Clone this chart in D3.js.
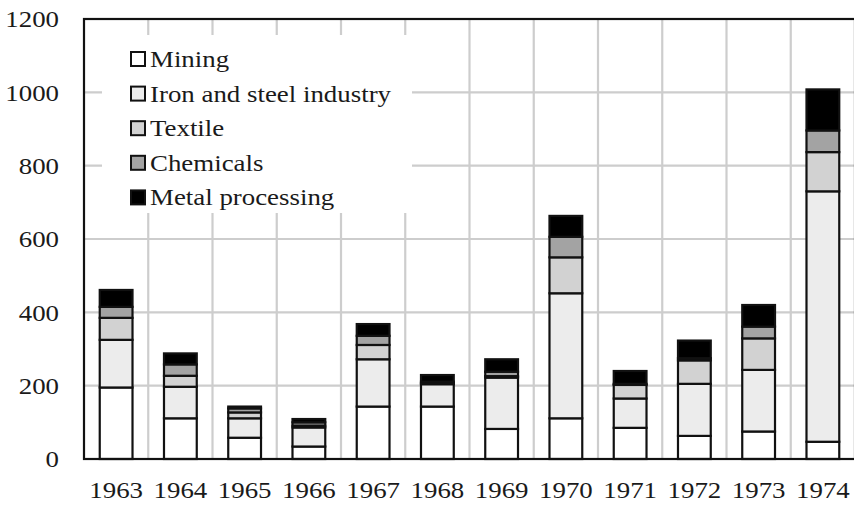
<!DOCTYPE html>
<html>
<head>
<meta charset="utf-8">
<script src="https://cdn.jsdelivr.net/npm/d3@7"></script>
<style>
  body { margin: 0; background: #fff; }
</style>
</head>
<body>
<svg id="chart" width="854" height="505"></svg>
<script>
// Anni e serie
const years = ["1963", "1964", "1965", "1966", "1967", "1968", "1969", "1970", "1971", "1972", "1973", "1974"];
const series = ["Mining", "Iron and steel industry", "Textile", "Chemicals", "Metal processing"];
const mining     = [195, 111, 58, 34, 143, 143, 82, 111, 85, 63, 75, 47];
const ironSteel  = [130, 86, 53, 52, 129, 61, 140, 341, 80, 142, 168, 683];
const textile    = [60, 30, 16, 5, 39, 3, 4, 98, 37, 64, 86, 107];
const chemicals  = [30, 31, 11, 9, 25, 4, 12, 56, 3, 6, 32, 59];
const metal      = [46, 30, 5, 9, 32, 18, 34, 57, 35, 48, 59, 112];
const yTicks = [0, 200, 400, 600, 800, 1000, 1200];
const fills = ["#ffffff", "#ececec", "#d2d2d2", "#a3a3a3", "#000000"];
const FONT = "'Liberation Serif', 'DejaVu Serif', serif";
const SX = 1.12;   // l'immagine originale è un po' allargata in orizzontale

const svg = d3.select("#chart");
const margin = { left: 84, top: 19, right: -1, bottom: 46 };
const width = 854 - margin.left - margin.right;
const height = 505 - margin.top - margin.bottom;

const g = svg.append("g").attr("transform", `translate(${margin.left},${margin.top})`);

const x = d3.scaleBand().domain(years).range([0, width]).paddingInner(0.49).paddingOuter(0.245);
const xGrid = d3.scaleBand().domain(years).range([0, width]);
const y = d3.scaleLinear().domain([0, 1200]).range([height, 0]);

// Righe di tabella per lo stack
const rows = years.map((yr, i) => ({
  year: yr,
  "Mining": mining[i],
  "Iron and steel industry": ironSteel[i],
  "Textile": textile[i],
  "Chemicals": chemicals[i],
  "Metal processing": metal[i]
}));
const stacked = d3.stack().keys(series)(rows);

// Griglia
const grid = g.append("g").attr("class", "grid");
grid.selectAll("line.h")
  .data(yTicks.slice(1, -1))
  .enter().append("line")
  .attr("x1", 0).attr("x2", width)
  .attr("y1", d => y(d)).attr("y2", d => y(d))
  .style("stroke", "#cdcdcd").style("stroke-width", 2.2);
grid.selectAll("line.v")
  .data(years.slice(1))
  .enter().append("line")
  .attr("x1", d => xGrid(d)).attr("x2", d => xGrid(d))
  .attr("y1", 0).attr("y2", height)
  .style("stroke", "#cdcdcd").style("stroke-width", 2.2);

// Sfondo bianco della legenda (copre la griglia)
g.append("rect")
  .attr("x", 18).attr("y", 16)
  .attr("width", 310).attr("height", 178)
  .style("fill", "#fff");

// Barre
const layers = g.selectAll("g.layer")
  .data(stacked)
  .enter().append("g")
  .attr("class", "layer")
  .style("fill", (d, i) => fills[i]);

layers.selectAll("rect")
  .data(d => d)
  .enter().append("rect")
  .attr("x", d => x(d.data.year))
  .attr("width", x.bandwidth())
  .attr("y", d => y(d[1]))
  .attr("height", d => y(d[0]) - y(d[1]))
  .style("stroke", "#111")
  .style("stroke-width", 2.2);

// Bordo dell'area del grafico
g.append("rect")
  .attr("x", 0).attr("y", 0)
  .attr("width", width).attr("height", height)
  .style("fill", "none")
  .style("stroke", "#111")
  .style("stroke-width", 2.2);

// Assi
const yAxis = g.append("g")
  .call(d3.axisLeft(y).tickValues(yTicks).tickFormat(d3.format("d")).tickSize(0).tickPadding(0));
yAxis.select(".domain").remove();
yAxis.selectAll("text")
  .attr("x", null)
  .attr("transform", `translate(-25,0) scale(${SX},1)`)
  .style("font-family", FONT)
  .style("font-size", "24px")
  .style("fill", "#1a1a1a");

const xAxis = g.append("g")
  .attr("transform", `translate(0,${height})`)
  .call(d3.axisBottom(x).tickSize(0).tickPadding(22));
xAxis.select(".domain").remove();
xAxis.selectAll("text")
  .attr("transform", `scale(${SX},1)`)
  .style("font-family", FONT)
  .style("font-size", "24px")
  .style("fill", "#1a1a1a");

// Legenda
const legend = g.append("g").attr("transform", "translate(47,40)");
const items = legend.selectAll("g")
  .data(series)
  .enter().append("g")
  .attr("transform", (d, i) => `translate(0,${i * 34.6})`);
items.append("rect")
  .attr("x", 0).attr("y", -7)
  .attr("width", 14).attr("height", 14)
  .style("fill", (d, i) => fills[i])
  .style("stroke", "#111")
  .style("stroke-width", 2);
items.append("text")
  .attr("transform", `translate(19,8) scale(${SX},1)`)
  .style("font-family", FONT)
  .style("font-size", "24px")
  .style("fill", "#1a1a1a")
  .text(d => d);
</script>
</body>
</html>
